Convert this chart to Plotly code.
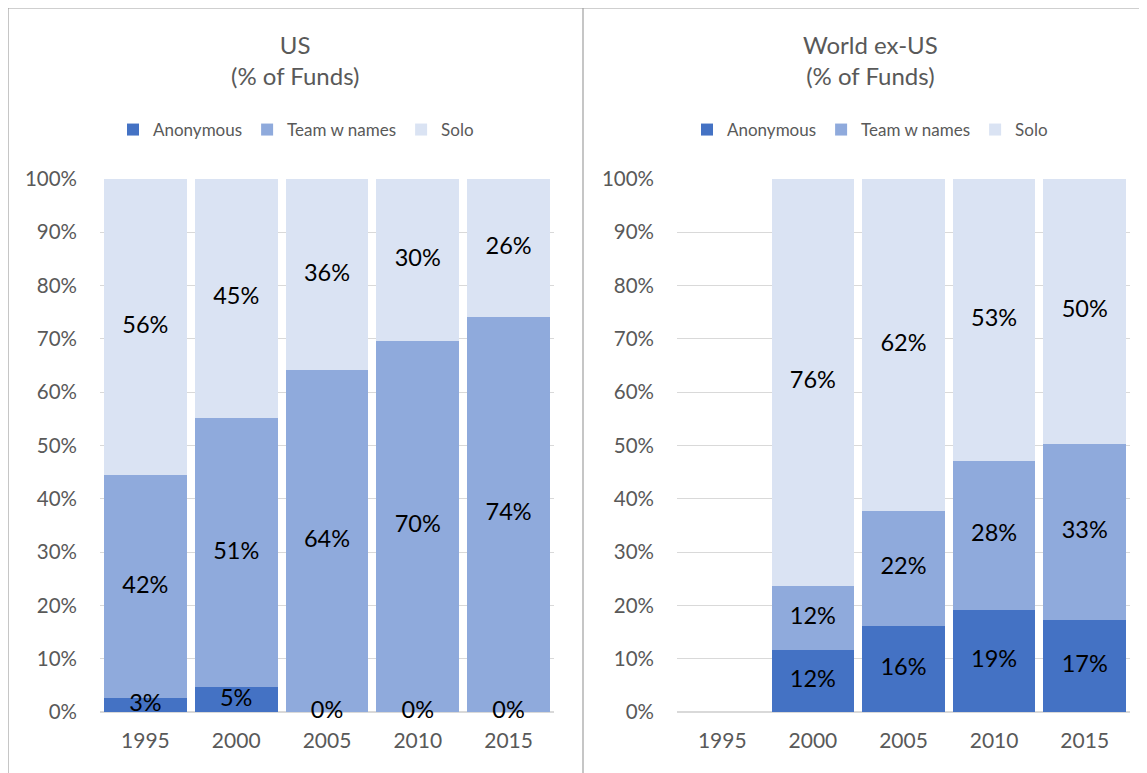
import plotly.graph_objects as go

years = ["1995", "2000", "2005", "2010", "2015"]

us_anonymous = [2.6, 4.6, 0.0, 0.0, 0.0]
us_team = [41.8, 50.6, 64.1, 69.7, 74.2]
us_solo = [55.6, 44.8, 35.9, 30.3, 25.8]

world_anonymous = [None, 11.6, 16.2, 19.2, 17.3]
world_team = [None, 12.1, 21.6, 27.8, 33.0]
world_solo = [None, 76.3, 62.2, 53.0, 49.7]

series_names = ["Anonymous", "Team w names", "Solo"]
colors = ["#4472C4", "#8FAADC", "#DAE3F3"]

W, H = 1147, 773
OFF = 8  # page body margin offset
FONT = "Lato, 'Open Sans', sans-serif"
GREY = "#595959"


def px_x(p):
    return max(0.0, (p - OFF) / W)


def px_y(p):
    return min(1.0, (H - (p - OFF)) / H)


fig = go.Figure()


def add_panel(values, xa, ya, legend_name):
    bottoms = [0.0] * len(years)
    for name, vals, col in zip(series_names, values, colors):
        fig.add_trace(go.Bar(
            x=years, y=vals, name=name, marker=dict(color=col, line=dict(width=0)),
            xaxis=xa, yaxis=ya, legend=legend_name, hoverinfo="skip",
        ))
        mids, texts, xs = [], [], []
        for i, v in enumerate(vals):
            if v is None:
                continue
            mids.append(bottoms[i] + v / 2)
            texts.append(f"{round(v):.0f}%")
            xs.append(years[i])
            bottoms[i] += v
        fig.add_trace(go.Scatter(
            x=xs, y=mids, text=texts, mode="text", showlegend=False,
            textfont=dict(family=FONT, size=23.5, color="#000000"),
            textposition="middle center", xaxis=xa, yaxis=ya, hoverinfo="skip",
            cliponaxis=False,
        ))


add_panel([us_anonymous, us_team, us_solo], "x", "y", "legend")
add_panel([world_anonymous, world_team, world_solo], "x2", "y2", "legend2")

ydom = [px_y(712), px_y(179)]
axis_common_y = dict(
    range=[0, 100], dtick=10, ticksuffix="%", showgrid=True, gridcolor="#D9D9D9",
    gridwidth=1, zeroline=True, zerolinecolor="#D9D9D9", zerolinewidth=1.5,
    showline=False, tickfont=dict(family=FONT, size=20.5, color=GREY),
    ticklabelstandoff=22, domain=ydom, fixedrange=True, automargin=False,
)
axis_common_x = dict(
    type="category", categoryorder="array", categoryarray=years, range=[-0.5, 4.5],
    showgrid=False, showline=False, zeroline=False,
    tickfont=dict(family=FONT, size=21, color=GREY), ticklabelstandoff=14,
    fixedrange=True, automargin=False,
)

legend_common = dict(
    orientation="h", xanchor="center", yanchor="middle", traceorder="normal",
    font=dict(family=FONT, size=17, color=GREY), bgcolor="rgba(0,0,0,0)",
    itemwidth=30, xref="container", yref="container",
)

fig.update_layout(
    width=W, height=H, margin=dict(l=0, r=0, t=0, b=0, autoexpand=False),
    paper_bgcolor="white", plot_bgcolor="white",
    barmode="stack", bargap=0.09,
    font=dict(family=FONT, color=GREY),
    xaxis=dict(axis_common_x, domain=[px_x(100), px_x(554)], anchor="y"),
    yaxis=dict(axis_common_y, anchor="x"),
    xaxis2=dict(axis_common_x, domain=[px_x(677), px_x(1130)], anchor="y2"),
    yaxis2=dict(axis_common_y, anchor="x2"),
    legend=dict(legend_common, x=px_x(296), y=px_y(130)),
    legend2=dict(legend_common, x=px_x(870), y=px_y(130)),
    showlegend=True,
)

titles = [("US<br>(% of Funds)", 295), ("World ex-US<br>(% of Funds)", 871)]
for txt, cx in titles:
    fig.add_annotation(text=txt, x=px_x(cx), y=px_y(60), xref="paper", yref="paper",
                       xanchor="center", yanchor="middle", showarrow=False,
                       font=dict(family=FONT, size=24, color=GREY))

border = dict(color="#A0A0A0", width=1.2)
fig.add_shape(type="line", xref="paper", yref="paper", x0=px_x(7), x1=px_x(7), y0=0, y1=px_y(7), line=border)
fig.add_shape(type="line", xref="paper", yref="paper", x0=px_x(7), x1=1, y0=px_y(7), y1=px_y(7), line=border)
fig.add_shape(type="line", xref="paper", yref="paper", x0=px_x(583), x1=px_x(583), y0=0, y1=px_y(7), line=border)

fig.write_html("out.html")
